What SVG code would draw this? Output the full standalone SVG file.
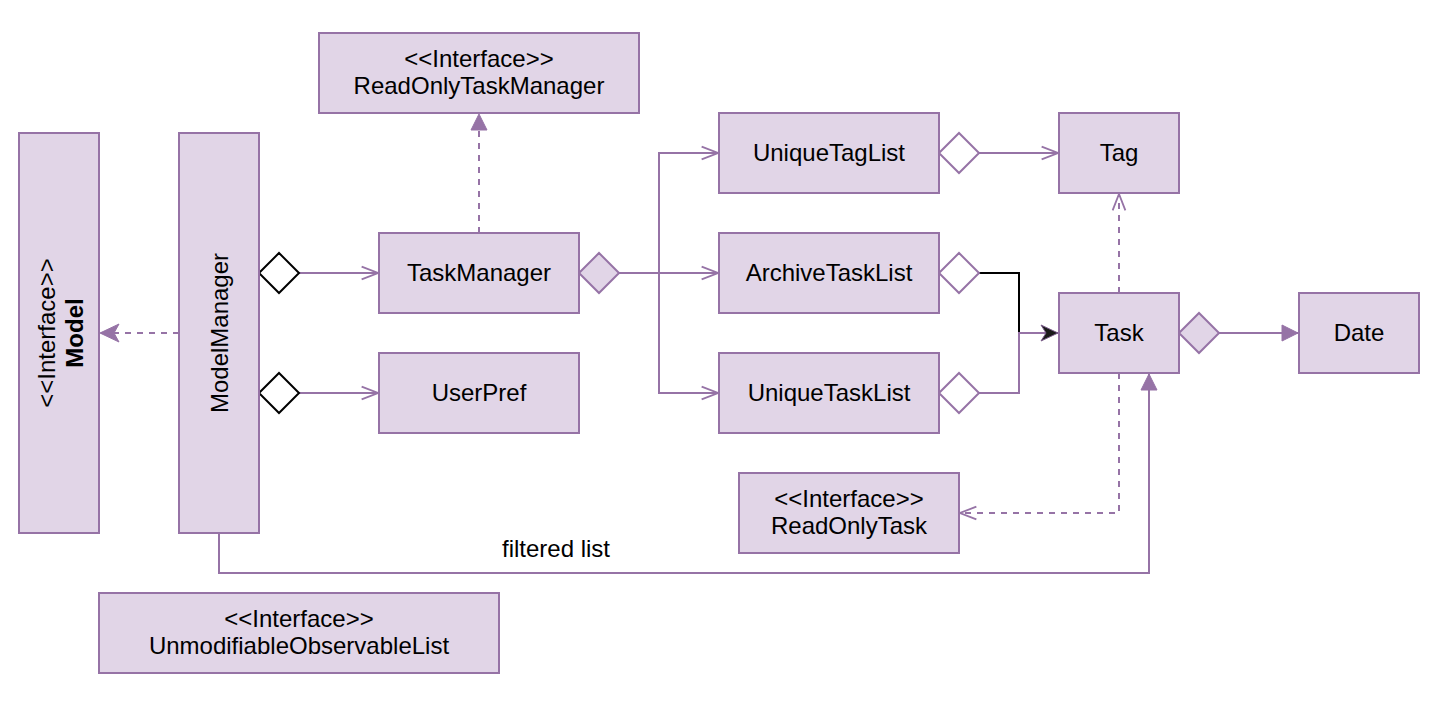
<svg xmlns="http://www.w3.org/2000/svg" width="1448" height="702" viewBox="0 0 1448 702">
<defs>
<style>
.box{fill:#e1d5e7;stroke:#9673a6;stroke-width:2}
.t{font-family:"Liberation Sans",Arial,sans-serif;font-size:24px;fill:#000;text-anchor:middle}
.b{font-weight:bold}
.c{fill:none;stroke:#9673a6;stroke-width:2}
.d{stroke-dasharray:6,6}
.dw{fill:#fff;stroke:#9673a6;stroke-width:2}
.dk{fill:#fff;stroke:#000;stroke-width:2}
.df{fill:#e1d5e7;stroke:#9673a6;stroke-width:2}
</style>
<marker id="open" markerWidth="20" markerHeight="20" viewBox="-20 -10 22 20" refX="0" refY="0" orient="auto" markerUnits="userSpaceOnUse">
<path d="M-18,-7 L0,0 L-18,7" fill="none" stroke="#9673a6" stroke-width="2"/>
</marker>
<marker id="block" markerWidth="24" markerHeight="24" viewBox="-22 -12 24 24" refX="0" refY="0" orient="auto" markerUnits="userSpaceOnUse">
<path d="M-16,-8 L0,0 L-16,8 Z" fill="#9673a6" stroke="#9673a6" stroke-width="1"/>
</marker>
<marker id="classic" markerWidth="24" markerHeight="24" viewBox="-22 -12 24 24" refX="0" refY="0" orient="auto" markerUnits="userSpaceOnUse">
<path d="M-19,-9 L0,0 L-19,9 L-14,0 Z" fill="#9673a6" stroke="#9673a6" stroke-width="1"/>
</marker>
<marker id="classicK" markerWidth="24" markerHeight="24" viewBox="-22 -12 24 24" refX="0" refY="0" orient="auto" markerUnits="userSpaceOnUse">
<path d="M-17,-8 L0,0 L-17,8 L-12,0 Z" fill="#1a1a1a" stroke="#7a5c8a" stroke-width="1"/>
</marker>
</defs>

<g id="connectors">
<path class="c d" d="M179,333 L100,333" marker-end="url(#classic)"/>
<path class="c" d="M299,273 L378,273" marker-end="url(#open)"/>
<polygon class="dk" points="259,273 279,253 299,273 279,293"/>
<path class="c" d="M299,393 L378,393" marker-end="url(#open)"/>
<polygon class="dk" points="259,393 279,373 299,393 279,413"/>
<path class="c d" d="M479,233 L479,114" marker-end="url(#block)"/>
<path class="c" d="M619,273 L659,273 L659,153 L718,153" marker-end="url(#open)"/>
<path class="c" d="M619,273 L718,273" marker-end="url(#open)"/>
<path class="c" d="M659,273 L659,393 L718,393" marker-end="url(#open)"/>
<polygon class="df" points="579,273 599,253 619,273 599,293"/>
<path class="c" d="M979,153 L1058,153" marker-end="url(#open)"/>
<polygon class="dw" points="939,153 959,133 979,153 959,173"/>
<path d="M979,273 L1019,273 L1019,333" fill="none" stroke="#000" stroke-width="2"/>
<polygon class="dw" points="939,273 959,253 979,273 959,293"/>
<path class="c" d="M979,393 L1019,393 L1019,333 L1058,333" marker-end="url(#classicK)"/>
<polygon class="dw" points="939,393 959,373 979,393 959,413"/>
<path class="c d" d="M1119,293 L1119,194" marker-end="url(#open)"/>
<path class="c" d="M1219,333 L1298,333" marker-end="url(#block)"/>
<polygon class="df" points="1179,333 1199,313 1219,333 1199,353"/>
<path class="c d" d="M1119,373 L1119,513 L960,513" marker-end="url(#open)"/>
<path class="c" d="M219,533 L219,573 L1149,573 L1149,374" marker-end="url(#block)"/>
<text class="t" x="556" y="557">filtered list</text>
</g>

<g id="node-model">
<rect class="box" x="19" y="133" width="80" height="400"/>
<g transform="translate(59,333) rotate(-90)">
<text class="t" x="0" y="-4">&lt;&lt;Interface&gt;&gt;</text>
<text class="t b" x="0" y="24">Model</text>
</g>
</g>
<g id="node-modelmanager">
<rect class="box" x="179" y="133" width="80" height="400"/>
<text class="t" transform="translate(219,333) rotate(-90)" x="0" y="9">ModelManager</text>
</g>
<g id="node-readonlytaskmanager">
<rect class="box" x="319" y="33" width="320" height="80"/>
<text class="t" x="479" y="67">&lt;&lt;Interface&gt;&gt;</text>
<text class="t" x="479" y="94">ReadOnlyTaskManager</text>
</g>
<g id="node-taskmanager">
<rect class="box" x="379" y="233" width="200" height="80"/>
<text class="t" x="479" y="281">TaskManager</text>
</g>
<g id="node-userpref">
<rect class="box" x="379" y="353" width="200" height="80"/>
<text class="t" x="479" y="401">UserPref</text>
</g>
<g id="node-uniquetaglist">
<rect class="box" x="719" y="113" width="220" height="80"/>
<text class="t" x="829" y="161">UniqueTagList</text>
</g>
<g id="node-archivetasklist">
<rect class="box" x="719" y="233" width="220" height="80"/>
<text class="t" x="829" y="281">ArchiveTaskList</text>
</g>
<g id="node-uniquetasklist">
<rect class="box" x="719" y="353" width="220" height="80"/>
<text class="t" x="829" y="401">UniqueTaskList</text>
</g>
<g id="node-tag">
<rect class="box" x="1059" y="113" width="120" height="80"/>
<text class="t" x="1119" y="161">Tag</text>
</g>
<g id="node-task">
<rect class="box" x="1059" y="293" width="120" height="80"/>
<text class="t" x="1119" y="341">Task</text>
</g>
<g id="node-date">
<rect class="box" x="1299" y="293" width="120" height="80"/>
<text class="t" x="1359" y="341">Date</text>
</g>
<g id="node-readonlytask">
<rect class="box" x="739" y="473" width="220" height="80"/>
<text class="t" x="849" y="507">&lt;&lt;Interface&gt;&gt;</text>
<text class="t" x="849" y="534">ReadOnlyTask</text>
</g>
<g id="node-unmodifiableobservablelist">
<rect class="box" x="99" y="593" width="400" height="80"/>
<text class="t" x="299" y="627">&lt;&lt;Interface&gt;&gt;</text>
<text class="t" x="299" y="654">UnmodifiableObservableList</text>
</g>
</svg>
